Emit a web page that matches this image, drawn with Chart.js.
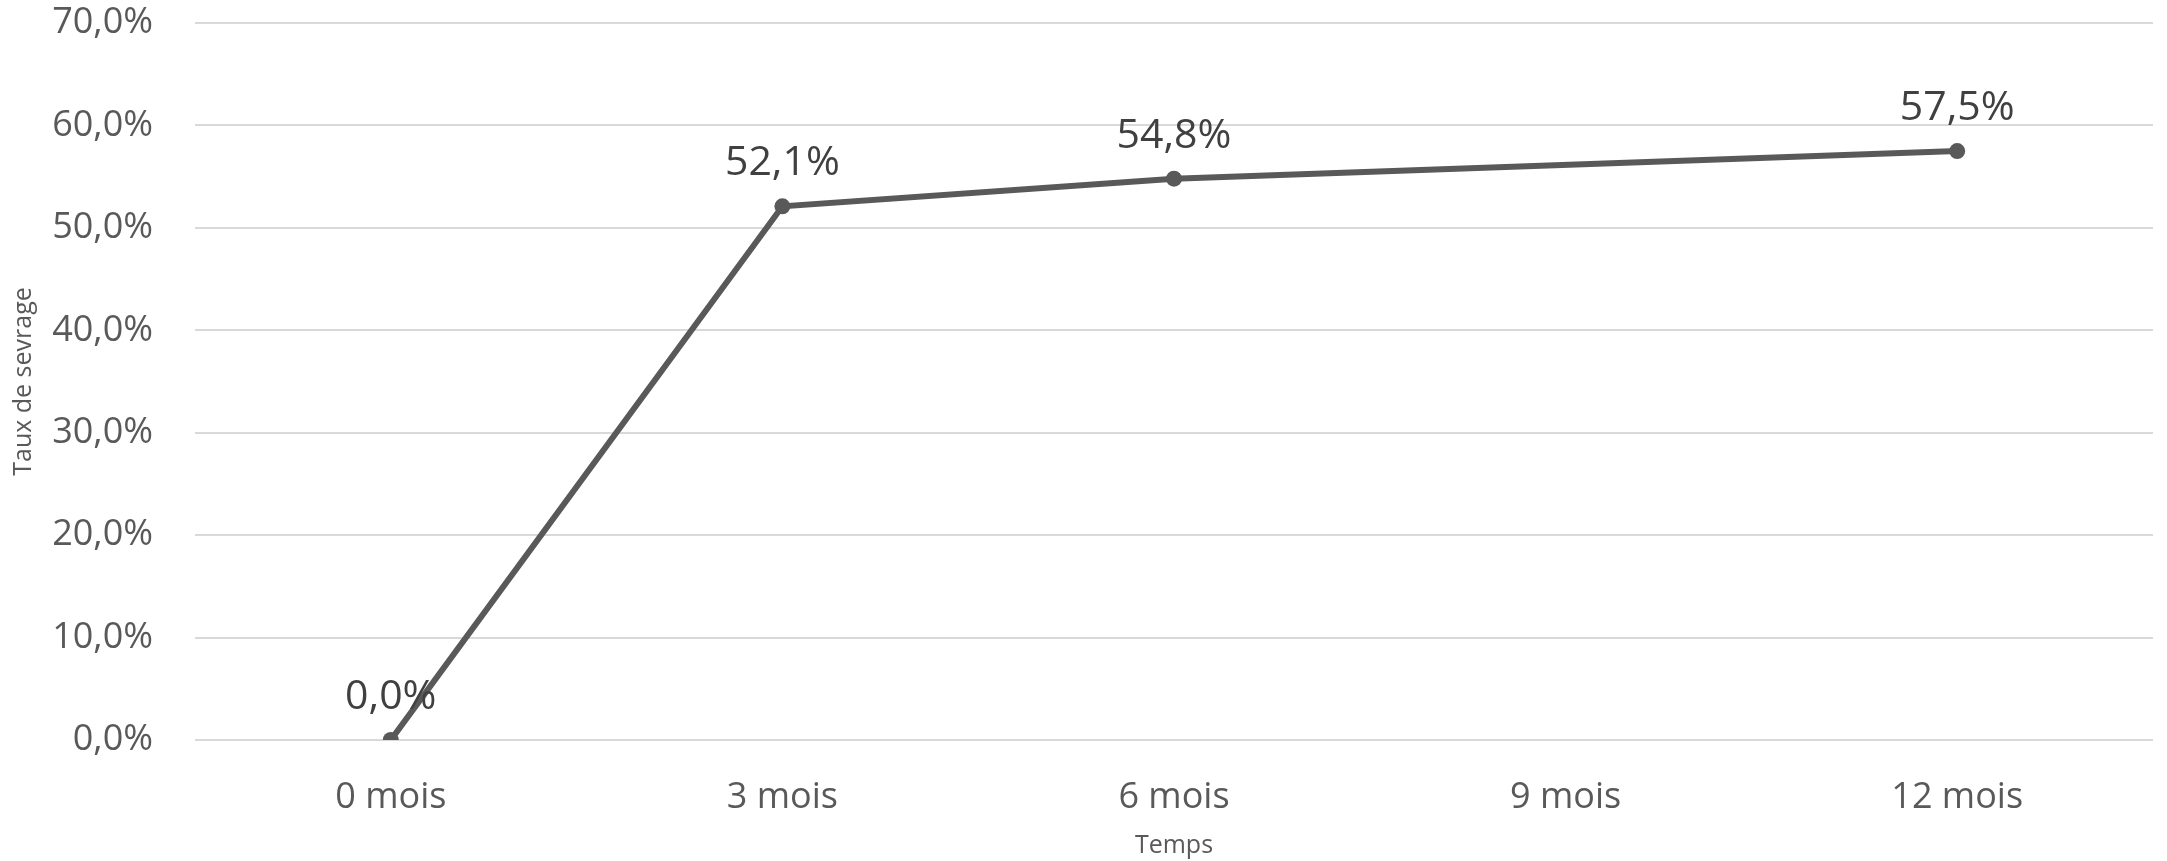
<!DOCTYPE html>
<html>
<head>
<meta charset="utf-8">
<script src="https://cdn.jsdelivr.net/npm/chart.js@4"></script>
<style>
  html, body { margin: 0; padding: 0; background: #fff; }
  #wrap { width: 2167px; height: 861px; }
</style>
</head>
<body>
<div id="wrap"><canvas id="sevrageChart"></canvas></div>
<script>
const categories = ['0 mois', '3 mois', '6 mois', '9 mois', '12 mois'];
const tauxSevrage = [0.0, 52.1, 54.8, null, 57.5];
const yTicks = [0, 10, 20, 30, 40, 50, 60, 70];

const FONT = "'Open Sans', 'Noto Sans', sans-serif";
const fmt = v => v.toFixed(1).replace('.', ',') + '%';

// valeurs au-dessus des points
const pointLabels = {
    id: 'pointLabels',
    afterDatasetsDraw(chart) {
        const ctx = chart.ctx;
        const meta = chart.getDatasetMeta(0);
        ctx.save();
        ctx.font = '41px ' + FONT;
        ctx.fillStyle = '#404040';
        ctx.textAlign = 'center';
        ctx.textBaseline = 'alphabetic';
        meta.data.forEach((pt, i) => {
            const v = chart.data.datasets[0].data[i];
            if (v === null || v === undefined) return;
            ctx.fillText(fmt(v), pt.x, pt.y - 31);
        });
        ctx.restore();
    }
};

function initChart() {
    const ctx = document.getElementById('sevrageChart').getContext('2d');
    new Chart(ctx, {
        type: 'line',
        data: {
            labels: categories,
            datasets: [{
                data: tauxSevrage,
                borderColor: '#595959',
                backgroundColor: '#595959',
                borderWidth: 6,
                pointRadius: 8,
                pointHoverRadius: 8,
                pointBackgroundColor: '#595959',
                pointBorderWidth: 0,
                spanGaps: true,
                tension: 0
            }]
        },
        options: {
            responsive: true,
            maintainAspectRatio: false,
            animation: false,
            devicePixelRatio: 1,
            layout: { padding: { top: 23, right: 14, bottom: 0, left: 0 } },
            plugins: { legend: { display: false }, tooltip: { enabled: false } },
            scales: {
                x: {
                    offset: true,
                    grid: { display: false, drawTicks: false },
                    border: { display: false },
                    ticks: { color: '#595959', font: { family: FONT, size: 36 }, padding: 36 },
                    title: { display: true, text: 'Temps', color: '#595959', font: { family: FONT, size: 25 }, padding: { top: 0, bottom: 0 } },
                    afterFit: s => { s.height = 121; s.paddingLeft = 0; s.paddingRight = 0; }
                },
                y: {
                    min: 0,
                    max: 70,
                    afterBuildTicks: s => { s.ticks = yTicks.map(v => ({ value: v })); },
                    grid: { color: '#d9d9d9', lineWidth: 2, drawTicks: false },
                    border: { display: false },
                    ticks: { color: '#595959', font: { family: FONT, size: 36 }, padding: 42, callback: v => fmt(v) },
                    title: { display: true, text: 'Taux de sevrage', color: '#595959', font: { family: FONT, size: 25 }, padding: { top: 9, bottom: 0 } },
                    afterFit: s => { s.width = 195; s.paddingTop = 0; s.paddingBottom = 0; }
                }
            }
        },
        plugins: [pointLabels]
    });
}

document.addEventListener('DOMContentLoaded', initChart);
</script>
</body>
</html>
